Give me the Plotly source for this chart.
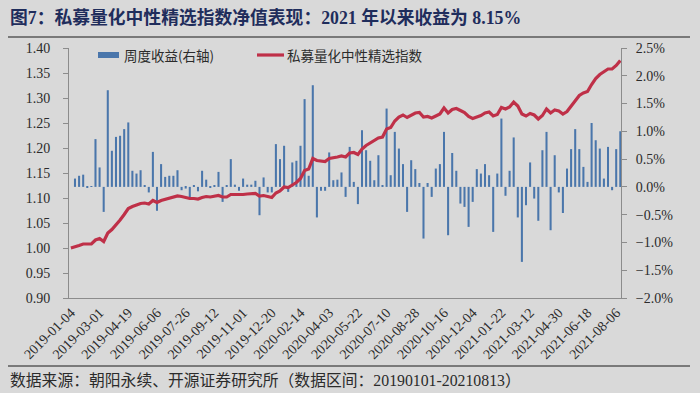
import plotly.graph_objects as go

# ---- data ----
tick_labels = ["2019-01-04", "2019-03-01", "2019-04-19", "2019-06-06", "2019-07-26",
               "2019-09-12", "2019-11-01", "2019-12-20", "2020-02-14", "2020-04-03",
               "2020-05-22", "2020-07-10", "2020-08-28", "2020-10-16", "2020-12-04",
               "2021-01-22", "2021-03-12", "2021-04-30", "2021-06-18", "2021-08-06"]
tick_step = 7  # one label every 7 weeks

# weekly return, % (right axis)
weekly_return = [
    0.00, 0.15, 0.20, 0.22, -0.02, 0.01, 0.86, 0.35, -0.45, 1.74,
    0.65, 0.90, 0.92, 1.04, 1.16, 0.29, 0.24, 0.30, 0.03, -0.10,
    0.63, -0.43, 0.41, 0.18, 0.20, 0.20, 0.30, -0.06, -0.03, -0.19,
    0.02, -0.08, 0.29, 0.13, -0.02, 0.02, 0.27, -0.27, 0.03, 0.50,
    0.04, -0.07, 0.15, 0.04, 0.04, 0.11, -0.51, 0.17, -0.10, -0.10,
    0.77, 0.50, 0.74, -0.09, 0.44, 0.47, 0.74, 1.58, 0.20, 1.83,
    -0.55, -0.07, -0.07, 0.62, 0.12, 0.13, 0.26, -0.18, 0.72, 0.09,
    -0.31, 1.02, 0.66, 0.47, 0.12, 0.57, 0.03, 1.41, 0.21, 0.99,
    0.69, 0.41, -0.45, 0.48, 0.32, 0.07, -0.93, 0.07, -0.18, 0.33,
    0.41, 0.99, -0.87, 0.61, 0.29, -0.30, -0.36, -0.72, -0.27, 0.32,
    0.24, 0.41, 0.21, -0.81, 0.24, 1.23, -0.16, 0.29, 0.89, -0.55,
    -1.35, -0.33, 0.44, -0.21, -0.61, 0.66, 0.99, -0.78, 0.57, -0.10,
    -0.47, 0.33, 0.68, 1.04, 0.68, 0.36, 0.09, 1.15, 0.84, 0.69,
    0.15, 0.72, -0.06, 0.68, 1.00,
]

# index net value (left axis)
index_nav = [
    1.000, 1.002, 1.005, 1.008, 1.008, 1.008, 1.016, 1.019, 1.013, 1.030,
    1.037, 1.046, 1.056, 1.067, 1.079, 1.083, 1.086, 1.089, 1.090, 1.088,
    1.095, 1.091, 1.095, 1.097, 1.099, 1.101, 1.104, 1.103, 1.101, 1.099,
    1.099, 1.098, 1.101, 1.103, 1.102, 1.103, 1.105, 1.102, 1.102, 1.107,
    1.107, 1.106, 1.107, 1.108, 1.108, 1.109, 1.104, 1.105, 1.103, 1.101,
    1.110, 1.114, 1.122, 1.121, 1.126, 1.131, 1.139, 1.155, 1.158, 1.179,
    1.175, 1.174, 1.173, 1.179, 1.180, 1.182, 1.184, 1.182, 1.190, 1.191,
    1.187, 1.198, 1.205, 1.210, 1.214, 1.220, 1.222, 1.238, 1.241, 1.254,
    1.262, 1.266, 1.261, 1.266, 1.270, 1.271, 1.262, 1.263, 1.260, 1.264,
    1.268, 1.280, 1.270, 1.277, 1.279, 1.275, 1.271, 1.263, 1.259, 1.262,
    1.265, 1.270, 1.272, 1.264, 1.267, 1.281, 1.278, 1.282, 1.292, 1.284,
    1.268, 1.264, 1.269, 1.266, 1.258, 1.265, 1.278, 1.270, 1.276, 1.274,
    1.268, 1.273, 1.284, 1.296, 1.305, 1.310, 1.313, 1.327, 1.339, 1.347,
    1.352, 1.358, 1.358, 1.365, 1.375,
]

week = list(range(len(weekly_return)))
tick_pos = week[::tick_step][:len(tick_labels)]

bar_name = "周度收益(右轴)"
line_name = "私募量化中性精选指数"
title_text = "图7：私募量化中性精选指数净值表现：2021 年以来收益为 8.15%"
source_text = "数据来源：朝阳永续、开源证券研究所（数据区间：20190101-20210813）"

BG = "#d9d9d9"
BAR = "#4a76ab"
LINE = "#bf3048"
AX = "#8c8c8c"
TXT = "#2b2b2b"
SERIF = "Liberation Serif, Noto Sans CJK SC"
CJK = "Noto Sans CJK SC, sans-serif"

# plot-area pixel geometry (used for paper coords of decorations)
L, R, T, B = 69, 621, 48, 298
W_, H_ = R - L, B - T
def px(x): return (x - L) / W_
def py(y): return (B - y) / H_

fig = go.Figure()
fig.add_trace(go.Bar(x=week, y=weekly_return, name=bar_name, marker_color=BAR,
                     marker_line_width=0, width=0.5, yaxis="y", showlegend=False))
fig.add_trace(go.Scatter(x=week, y=index_nav, name=line_name, mode="lines",
                         line=dict(color=LINE, width=3.2), yaxis="y2", showlegend=False))

fig.update_layout(
    width=700, height=393,
    paper_bgcolor=BG, plot_bgcolor=BG,
    margin=dict(l=L, r=700 - R, t=T, b=393 - B, pad=0),
    bargap=0.5,
    xaxis=dict(range=[-0.46, 134.17], tickmode="array", tickvals=tick_pos,
               ticktext=tick_labels, tickangle=-45, ticks="", showgrid=False,
               zeroline=False, showline=True, linecolor=AX, linewidth=1,
               tickfont=dict(family=SERIF, size=14, color=TXT)),
    yaxis=dict(side="right", range=[-2, 2.5], dtick=0.5, tickformat=".1f",
               ticksuffix="%", showgrid=False, zeroline=False, showline=True,
               linecolor=AX, linewidth=1, ticks="outside", ticklen=5, tickcolor=AX,
               ticklabelstandoff=6,
               tickfont=dict(family=SERIF, size=14, color=TXT)),
    yaxis2=dict(side="left", overlaying="y", range=[0.9, 1.4], dtick=0.05,
                tickformat=".2f", showgrid=False, zeroline=False, showline=True,
                linecolor=AX, linewidth=1, ticks="outside", ticklen=5, tickcolor=AX,
                ticklabelstandoff=10,
                tickfont=dict(family=SERIF, size=14, color=TXT)),
    title=dict(text="<b>" + title_text + "</b>", x=10 / 700, xanchor="left",
               y=1 - 18 / 393, yanchor="middle", yref="container", xref="container",
               font=dict(family="Liberation Serif, Noto Sans CJK SC", size=17.8, color="#1f2d5c")),
)

# manual legend
fig.add_shape(type="rect", xref="paper", yref="paper", x0=px(98), x1=px(119),
              y0=py(58), y1=py(52), fillcolor=BAR, line_width=0)
fig.add_annotation(xref="paper", yref="paper", x=px(122), y=py(55), xanchor="left",
                   yanchor="middle", text=bar_name, showarrow=False,
                   font=dict(family=CJK, size=13.5, color=TXT))
fig.add_shape(type="line", xref="paper", yref="paper", x0=px(257), x1=px(284),
              y0=py(55), y1=py(55), line=dict(color=LINE, width=3.2))
fig.add_annotation(xref="paper", yref="paper", x=px(285), y=py(55), xanchor="left",
                   yanchor="middle", text=line_name, showarrow=False,
                   font=dict(family=CJK, size=13.5, color=TXT))

# rules under title and above source
fig.add_shape(type="line", xref="paper", yref="paper", x0=px(8), x1=px(690),
              y0=py(37), y1=py(37), line=dict(color="#1a1a1a", width=1.2))
fig.add_shape(type="line", xref="paper", yref="paper", x0=px(8), x1=px(690),
              y0=py(366), y1=py(366), line=dict(color="#1a1a1a", width=1))
fig.add_annotation(xref="paper", yref="paper", x=px(8), y=py(380), xanchor="left",
                   yanchor="middle", text=source_text, showarrow=False,
                   font=dict(family="Liberation Serif, Noto Sans CJK SC", size=15.8, color=TXT))

fig.write_html("out.html", config={"displayModeBar": False},
               post_script="document.body.style.margin='0';")
